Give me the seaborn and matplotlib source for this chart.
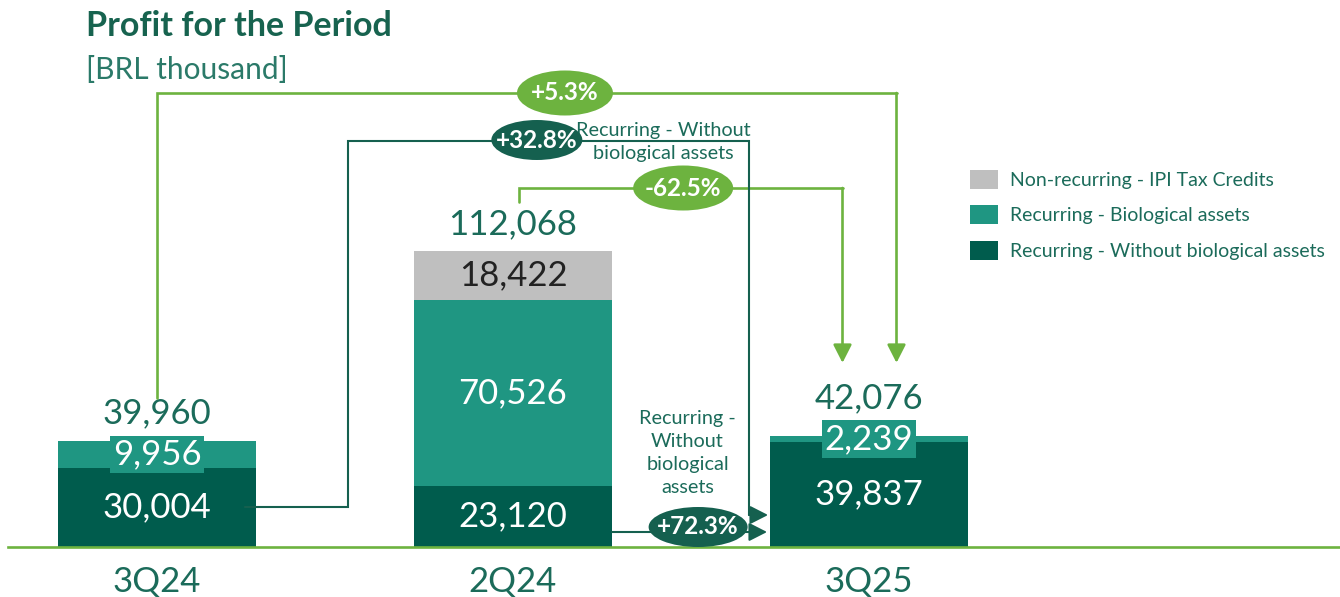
import matplotlib
matplotlib.use("Agg")
import numpy as np
import pandas as pd
import matplotlib.pyplot as plt
from matplotlib.patches import Ellipse, Patch
import seaborn as sns

# ---- data -------------------------------------------------------------
periods = ["3Q24", "2Q24", "3Q25"]
recurring_core = [30004, 23120, 39837]      # Recurring - Without biological assets
recurring_bio = [9956, 70526, 2239]         # Recurring - Biological assets
non_recurring = [0, 18422, 0]               # Non-recurring - IPI Tax Credits
segment_names = ["Non-recurring - IPI Tax Credits",
                 "Recurring - Biological assets",
                 "Recurring - Without biological assets"]

# ---- style ------------------------------------------------------------
DARK = "#005c4d"
TEAL = "#1f9682"
GREY = "#bfbfbf"
LIME = "#6db33f"
LINK_DARK = "#15604f"
TXT = "#1b6b5a"
TITLE = "#17634f"

sns.set_style("white")
plt.rcParams["font.family"] = ["Lato", "DejaVu Sans"]

core = np.array(recurring_core)
bio = np.array(recurring_bio)
nonrec = np.array(non_recurring)
totals = core + bio + nonrec

df = pd.DataFrame({
    "period": periods,
    "core": core,
    "core_bio": core + bio,
    "total": totals,
})

W, H = 1340, 597
fig = plt.figure(figsize=(W / 100, H / 100), dpi=100)
base_px = 547                      # baseline height from figure top
left_px = 8
ax = fig.add_axes([left_px / W, (H - base_px) / H, (W - left_px) / W, base_px / H])

X_PER_PX = 1 / 356                 # category spacing in pixels
Y_PER_PX = totals.max() / 296      # tallest bar height in pixels
BAR_W = 0.556

# layered bars give the stacked look
for col, colr in [("total", GREY), ("core_bio", TEAL), ("core", DARK)]:
    sns.barplot(data=df, x="period", y=col, color=colr, saturation=1,
                width=BAR_W, ax=ax, errorbar=None, linewidth=0)

ax.set_xlim(-(157 - left_px) * X_PER_PX, (W - 157) * X_PER_PX)
ax.set_ylim(0, base_px * Y_PER_PX)
ax.set_xlabel("")
ax.set_ylabel("")
ax.set_yticks([])
for s in ["top", "right", "left"]:
    ax.spines[s].set_visible(False)
ax.spines["bottom"].set_color(LIME)
ax.spines["bottom"].set_linewidth(1.9)
ax.tick_params(axis="x", length=0, pad=14, labelsize=25, labelcolor=TXT)


def level(p):
    """data y for a height given in pixels from the figure top"""
    return (base_px - p) * Y_PER_PX


# ---- segment labels ---------------------------------------------------
for i in range(len(periods)):
    ax.text(i, core[i] / 2, f"{core[i]:,}", ha="center", va="center",
            fontsize=25, color="white")
    mid = core[i] + bio[i] / 2
    small = bio[i] * 1 / Y_PER_PX < 40
    ax.text(i, mid, f"{bio[i]:,}", ha="center", va="center", fontsize=25,
            color="white",
            bbox=dict(boxstyle="square,pad=0.08", fc=TEAL, ec="none") if small else None)
    if nonrec[i] > 0:
        ax.text(i, core[i] + bio[i] + nonrec[i] / 2, f"{nonrec[i]:,}",
                ha="center", va="center", fontsize=25, color="#222222")

total_gap_px = [28, 27, 38]
for i in range(len(periods)):
    ax.text(i, totals[i] + total_gap_px[i] * Y_PER_PX, f"{totals[i]:,}",
            ha="center", va="center", fontsize=25, color=TXT)


# ---- connectors -------------------------------------------------------
def connector(pts, color, lw):
    xs = [p[0] for p in pts]
    ys = [p[1] for p in pts]
    ax.plot(xs[:-1], ys[:-1], color=color, lw=lw, solid_joinstyle="miter", zorder=4)
    ax.annotate("", xy=pts[-1], xytext=pts[-2],
                arrowprops=dict(arrowstyle="-|>,head_length=0.55,head_width=0.28",
                                mutation_scale=20, color=color, lw=lw,
                                shrinkA=0, shrinkB=0), zorder=4)


def badge(x, y, w_px, h_px, fc, text):
    ax.add_patch(Ellipse((x, y), w_px * X_PER_PX, h_px * Y_PER_PX, fc=fc,
                         ec="none", zorder=5))
    ax.text(x, y, text, ha="center", va="center", fontsize=17.5,
            fontweight="bold", color="white", zorder=6)


def pct(a, b):
    return f"{(b / a - 1) * 100:+.1f}%"


half = BAR_W / 2
px = X_PER_PX

# 3Q24 total -> 3Q25 total
xa = 2 + 27.5 * px
connector([(0, totals[0] + 43 * Y_PER_PX), (0, level(93)), (xa, level(93)),
           (xa, totals[2] + 73 * Y_PER_PX)], LIME, 1.9)
badge(1.146, level(93), 96, 45, LIME, pct(totals[0], totals[2]))

# 2Q24 total -> 3Q25 total
xc0 = 1 + 6 * px
xc1 = 2 - 26.5 * px
connector([(xc0, totals[1] + 49 * Y_PER_PX), (xc0, level(188)), (xc1, level(188)),
           (xc1, totals[2] + 73 * Y_PER_PX)], LIME, 1.9)
badge(1.478, level(188), 100, 45, LIME, pct(totals[1], totals[2]))

# 3Q24 recurring core -> 3Q25 recurring core
xb0 = half + 92 * px
xb1 = 2 - half - 21 * px
connector([(half - 11 * px, core[0] / 2), (xb0, core[0] / 2), (xb0, level(141)),
           (xb1, level(141)), (xb1, level(515)), (2 - half - 2 * px, level(515))],
          LINK_DARK, 1.5)
badge(1.067, level(140), 91, 40, LINK_DARK, pct(core[0], core[2]))
ax.text(1.421, level(142), "Recurring - Without\nbiological assets", ha="center",
        va="center", fontsize=14.3, color=TXT, linespacing=1.42, zorder=3)

# 2Q24 recurring core -> 3Q25 recurring core
connector([(1 + half, level(532)), (2 - half - 3 * px, level(532))], LINK_DARK, 1.5)
badge(1.520, level(527), 99, 40, LINK_DARK, pct(core[1], core[2]))
ax.text(1.49, level(453), "Recurring -\nWithout\nbiological\nassets", ha="center",
        va="center", fontsize=14.3, color=TXT, linespacing=1.42, zorder=3)

# ---- legend -----------------------------------------------------------
handles = [Patch(fc=c, ec="none") for c in [GREY, TEAL, DARK]]
fig.legend(handles, segment_names, loc="upper left",
           bbox_to_anchor=(970 / W, 1 - 170 / H), frameon=False,
           fontsize=14, labelcolor=TXT, handlelength=1.45, handleheight=1.1,
           handletextpad=0.6, labelspacing=0.85, borderpad=0, borderaxespad=0)

# ---- titles -----------------------------------------------------------
fig.text(86 / W, 1 - 26 / H, "Profit for the Period", ha="left", va="center",
         fontsize=24.5, fontweight="bold", color=TITLE)
fig.text(86 / W, 1 - 70 / H, "[BRL thousand]", ha="left", va="center",
         fontsize=21.5, color="#2b7a69")

fig.savefig("out.png", dpi=100)
